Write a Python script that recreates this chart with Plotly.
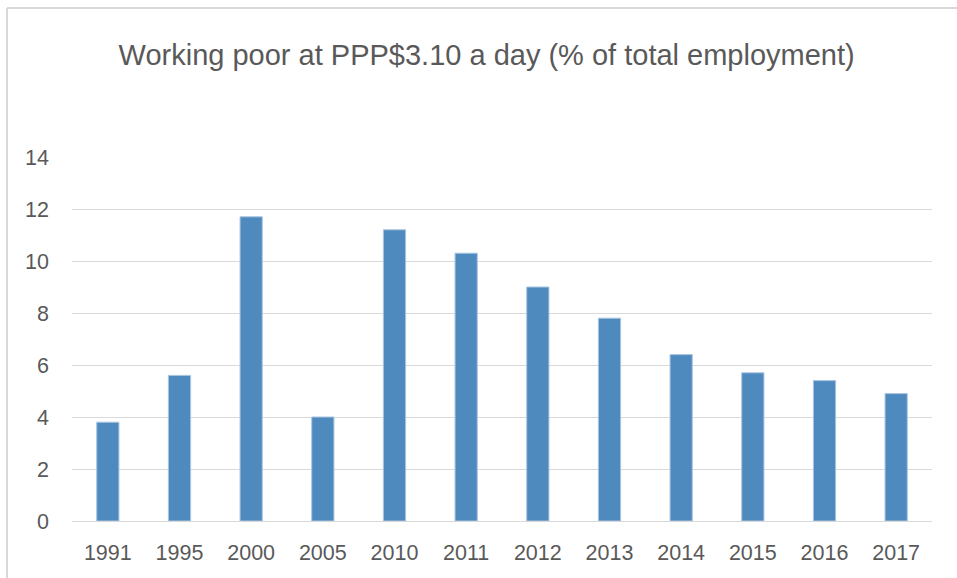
import plotly.graph_objects as go

years = ["1991", "1995", "2000", "2005", "2010", "2011", "2012", "2013", "2014", "2015", "2016", "2017"]
values = [3.8, 5.6, 11.7, 4.0, 11.2, 10.3, 9.0, 7.8, 6.4, 5.7, 5.4, 4.9]
y_ticks = [0, 2, 4, 6, 8, 10, 12, 14]

FONT = "Liberation Sans Narrow, Arial Narrow, Liberation Sans, sans-serif"
TXT = "#595959"

fig = go.Figure(go.Bar(
    x=years, y=values,
    marker=dict(color="#4F8ABE", line=dict(color="#A9C4E0", width=1)),
    width=0.31,
))

fig.update_layout(
    width=957, height=578,
    margin=dict(l=72, r=25, t=157, b=57),
    paper_bgcolor="white", plot_bgcolor="white",
    title=dict(text="Working poor at PPP$3.10 a day (% of total employment)",
               x=0.5085, xanchor="center", y=0.905, yanchor="middle",
               font=dict(family=FONT, size=29, color=TXT)),
    font=dict(family=FONT, color=TXT, size=21),
    showlegend=False,
    bargap=0.69,
)
fig.update_xaxes(type="category", showgrid=False, showline=True, linecolor="#D9D9D9",
                 linewidth=1, ticks="", ticklabelstandoff=12,
                 tickfont=dict(size=21.5, color=TXT, family=FONT))
fig.update_yaxes(range=[0, 14], tickvals=y_ticks, showgrid=True, gridcolor="#D9D9D9",
                 gridwidth=1, zeroline=False, showline=False, ticks="", ticklabelstandoff=22,
                 tickfont=dict(size=21.5, color=TXT, family=FONT))

# outer chart border (left and top edges visible in the reference)
bx = (7 - 72) / 860
by = (521 - 8) / 364
fig.add_shape(type="line", xref="paper", yref="paper", x0=bx, x1=bx, y0=-0.3, y1=by,
              line=dict(color="#D9D9D9", width=2))
fig.add_shape(type="line", xref="paper", yref="paper", x0=bx, x1=1.1, y0=by, y1=by,
              line=dict(color="#D9D9D9", width=2))

fig.write_html("out.html", config={"displayModeBar": False},
               post_script="document.body.style.margin='0';document.body.style.overflow='hidden';")
